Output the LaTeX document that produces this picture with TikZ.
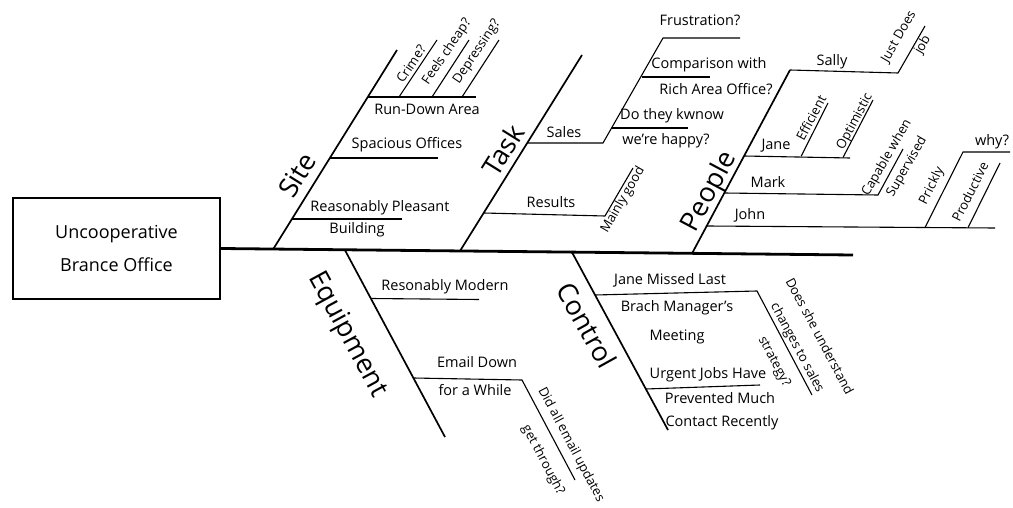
\documentclass[tikz,border=0pt]{standalone}
\usepackage{fontspec}
\setmainfont{Open Sans}
\begin{document}
\begin{tikzpicture}[x=1pt,y=-1pt,
  spine/.style={line width=2.8pt},
  bone/.style={line width=1.7pt},
  sub/.style={line width=1.1pt},
  lbl/.style={font=\fontsize{14.5}{17}\selectfont, inner sep=0pt},
  ticklbl/.style={font=\fontsize{13}{15}\selectfont, inner sep=0pt},
  cat/.style={font=\fontsize{27}{32}\selectfont, inner sep=0pt},
  headbox/.style={draw, line width=1.6pt, minimum width=207pt, minimum height=101pt,
    align=center, font=\fontsize{18}{33}\selectfont}]
\useasboundingbox (0,0) rectangle (1013,508);

% effect box and spine
\node[headbox] (box) at (116.5,248.5) {Uncooperative\\Brance Office};
\coordinate (head) at (853,255);
\draw[spine] (box.east) -- (head);

% ---- bone end points ----
\coordinate (siteA) at (273,249.5);  \coordinate (siteB) at (397,50);
\coordinate (taskA) at (460,251);    \coordinate (taskB) at (582,55);
\coordinate (peopA) at (692,253.5);  \coordinate (peopB) at (790,70);
\coordinate (equiA) at (345,250.2);  \coordinate (equiB) at (445,437);
\coordinate (ctrlA) at (572,252.3);  \coordinate (ctrlB) at (668,430);
\draw[bone] (siteA) -- (siteB);
\draw[bone] (taskA) -- (taskB);
\draw[bone] (peopA) -- (peopB);
\draw[bone] (equiA) -- (equiB);
\draw[bone] (ctrlA) -- (ctrlB);

% category labels
\node[cat, rotate=58] (site) at (297,175) {Site};
\node[cat, rotate=58] (task) at (503,150) {Task};
\node[cat, rotate=62] (people) at (710,192) {People};
\node[cat, rotate=-61.5] (equip) at (347,335) {Equipment};
\node[cat, rotate=-61] (control) at (587,325) {Control};

% ---- Site ----
\coordinate (rd1) at (367.8,97);  \coordinate (rd2) at (476,97);
\coordinate (sp1) at (329.9,158); \coordinate (sp2) at (438,158);
\coordinate (rp1) at (292,219);   \coordinate (rp2) at (402,219);
\draw[sub] (rd1) -- (rd2);
\draw[sub] (sp1) -- (sp2);
\draw[sub] (rp1) -- (rp2);
\coordinate (cr1) at (399,97); \coordinate (cr2) at (437,40);
\coordinate (fc1) at (432,97); \coordinate (fc2) at (469,40);
\coordinate (dp1) at (462,97); \coordinate (dp2) at (499,40);
\draw[sub] (cr1) -- (cr2);
\draw[sub] (fc1) -- (fc2);
\draw[sub] (dp1) -- (dp2);
\node[lbl] (rundown) at (427,109) {Run-Down Area};
\node[lbl] (spacious) at (407,145) {Spacious Offices};
\node[lbl] (pleasant) at (380,208) {Reasonably Pleasant};
\node[lbl] (building) at (357,230) {Building};
\node[ticklbl, rotate=56] (crime) at (411,64) {Crime?};
\node[ticklbl, rotate=56] (cheap) at (447,52) {Feels cheap?};
\node[ticklbl, rotate=56] (depress) at (477,52) {Depressing?};

% ---- Task ----
\coordinate (sa1) at (527.2,143); \coordinate (sa2) at (603,143);
\coordinate (fr1) at (663,38);    \coordinate (fr2) at (740,38);
\coordinate (cw1) at (641.6,77);  \coordinate (cw2) at (710,77);
\coordinate (dt1) at (611.6,128); \coordinate (dt2) at (688,128);
\draw[sub] (sa1) -- (sa2) -- (fr1) -- (fr2);
\draw[sub] (cw1) -- (cw2);
\draw[sub] (dt1) -- (dt2);
\coordinate (re1) at (483.6,213); \coordinate (re2) at (605,216);
\coordinate (mg2) at (633,168);
\draw[sub] (re1) -- (re2) -- (mg2);
\node[lbl] (sales) at (564,132) {Sales};
\node[lbl] (frust) at (700,20) {Frustration?};
\node[lbl] (comp) at (709,65) {Comparison with};
\node[lbl] (rich) at (716,89) {Rich Area Office?};
\node[lbl] (dothey) at (672,116) {Do they kwnow};
\node[lbl] (happy) at (666,141) {we're happy?};
\node[lbl] (results) at (551,202) {Results};
\node[ticklbl, rotate=60] (mainly) at (623,200) {Mainly good};

% ---- People ----
\coordinate (sy2) at (898,73); \coordinate (jd2) at (925,26);
\draw[sub] (peopB) -- (sy2) -- (jd2);
\coordinate (ja1) at (744,156);   \coordinate (ja2) at (850,158);
\coordinate (ef1) at (801,156.5); \coordinate (ef2) at (828,103);
\coordinate (op1) at (843,157.5); \coordinate (op2) at (873,100);
\draw[sub] (ja1) -- (ja2);
\draw[sub] (ef1) -- (ef2);
\draw[sub] (op1) -- (op2);
\coordinate (mk1) at (724.3,193); \coordinate (mk2) at (878,195);
\coordinate (cp2) at (903,149);
\draw[sub] (mk1) -- (mk2) -- (cp2);
\coordinate (jo1) at (706.7,226); \coordinate (jo2) at (995,228);
\coordinate (pk1) at (925,227.5); \coordinate (pk2) at (963,152);
\coordinate (wy2) at (1010,152);
\coordinate (pd1) at (968,227.7); \coordinate (pd2) at (1000,163);
\draw[sub] (jo1) -- (jo2);
\draw[sub] (pk1) -- (pk2) -- (wy2);
\draw[sub] (pd1) -- (pd2);
\node[lbl] (sally) at (832,62) {Sally};
\node[lbl] (jane) at (776,146) {Jane};
\node[lbl] (mark) at (768,182) {Mark};
\node[lbl] (john) at (750,215) {John};
\node[lbl] (why) at (992,142) {why?};
\node[ticklbl, rotate=60] (justdoes) at (899,37) {Just Does};
\node[ticklbl, rotate=60] (job) at (923,45) {job};
\node[ticklbl, rotate=62] (effic) at (811,118) {Efficient};
\node[ticklbl, rotate=62] (optim) at (855,122) {Optimistic};
\node[ticklbl, rotate=60] (capable) at (887,158) {Capable when};
\node[ticklbl, rotate=60] (superv) at (907,167) {Supervised};
\node[ticklbl, rotate=63] (prickly) at (932,186) {Prickly};
\node[ticklbl, rotate=63] (product) at (970,192) {Productive};

% ---- Equipment ----
\coordinate (rm1) at (371.1,298.5); \coordinate (rm2) at (479,299.5);
\draw[sub] (rm1) -- (rm2);
\coordinate (em1) at (413.5,378); \coordinate (em2) at (522,380);
\coordinate (da2) at (575,480);
\draw[sub] (em1) -- (em2) -- (da2);
\node[lbl] (modern) at (445,287) {Resonably Modern};
\node[lbl] (email) at (477,362) {Email Down};
\node[lbl] (while) at (475,390) {for a While};
\node[ticklbl, rotate=-62] (didall) at (571,445) {Did all email updates};
\node[ticklbl, rotate=-62] (through) at (543,460) {get through?};

% ---- Control ----
\coordinate (jm1) at (595,295); \coordinate (jm2) at (757,291);
\coordinate (ds2) at (812,395);
\draw[sub] (jm1) -- (jm2) -- (ds2);
\coordinate (uj1) at (645.8,389); \coordinate (uj2) at (760,385);
\draw[sub] (uj1) -- (uj2);
\node[lbl] (missed) at (670,280) {Jane Missed Last};
\node[lbl] (brach) at (677,308) {Brach Manager's};
\node[lbl] (meeting) at (677,337) {Meeting};
\node[lbl] (urgent) at (708,375) {Urgent Jobs Have};
\node[lbl] (prevented) at (720,398) {Prevented Much};
\node[lbl] (contact) at (722,423) {Contact Recently};
\node[ticklbl, rotate=-62] (doesshe) at (820,336) {Does she understand};
\node[ticklbl, rotate=-62] (changes) at (797,348) {changes to sales};
\node[ticklbl, rotate=-62] (strategy) at (774,362) {strategy?};
\end{tikzpicture}
\end{document}
